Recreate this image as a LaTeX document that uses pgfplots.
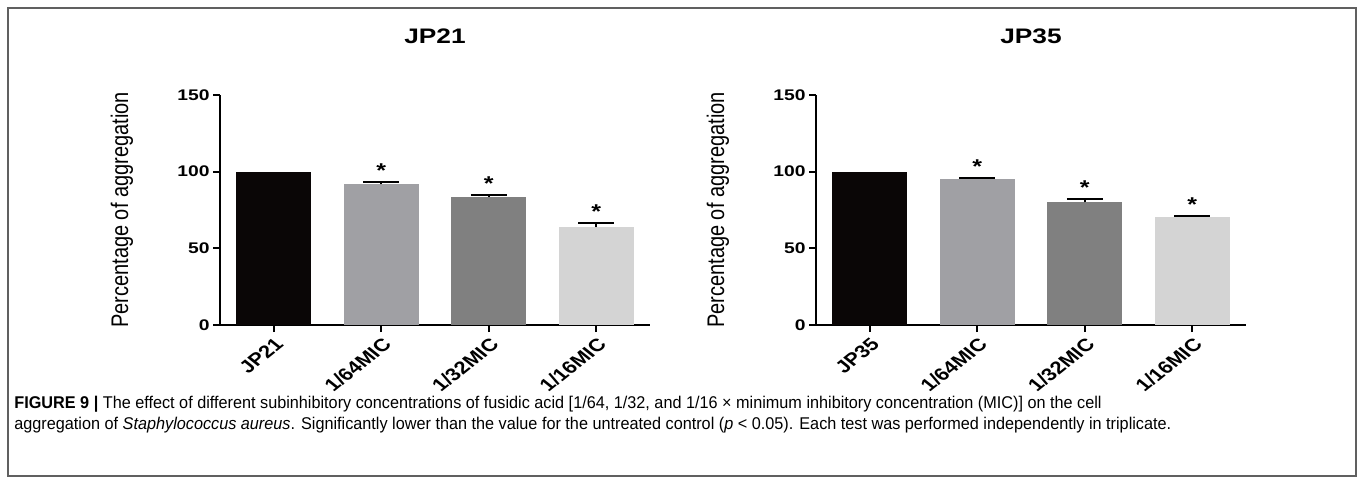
\documentclass[border=0pt]{standalone}
\usepackage{fontspec}
\setmainfont{Liberation Sans}
\newfontfamily\chartfont[FakeStretch=1.25]{Liberation Sans}
\newfontfamily\capfont[FakeStretch=0.955]{Liberation Sans}
\usepackage{pgfplots}
\pgfplotsset{compat=1.18}

\definecolor{ctrl}{RGB}{10,6,6}
\definecolor{mic64}{RGB}{160,160,164}
\definecolor{mic32}{RGB}{128,128,128}
\definecolor{mic16}{RGB}{212,212,212}

% common look of both panels (GraphPad style, stretched 1.25 sideways)
\pgfplotsset{
  prism/.style={
    width=215pt, height=115pt, scale only axis,
    xmin=-0.5, xmax=3.5, ymin=0, ymax=150,
    axis x line=bottom, axis y line=left,
    axis line style={-, line width=1pt, black},
    tick align=outside, major tick length=3.5pt,
    tick style={line width=1pt, black},
    xtick={0,1,2,3}, ytick={0,50,100,150},
    /pgf/number format/assume math mode=true,
    yticklabel style={font=\chartfont\bfseries\fontsize{7.7}{9}\selectfont, inner sep=1.5pt},
    xticklabel style={xscale=1.25, rotate=45, anchor=north east, inner sep=1.5pt,
      font=\bfseries\fontsize{8.8}{10}\selectfont},
    ylabel={Percentage of aggregation},
    ylabel style={at={(axis description cs:-0.228,0.5)}, anchor=center,
      rotate=-90, xscale=1.2, rotate=90,
      font=\fontsize{10}{12}\selectfont},
    title style={at={(0.5,1)}, anchor=center, yshift=23.25pt,
      font=\chartfont\bfseries\fontsize{10.5}{12}\selectfont},
    clip=false,
  },
  bar/.style={ybar, bar width=0.7, bar shift=0pt, draw=none, fill=#1,
    error bars/y dir=plus, error bars/y explicit,
    error bars/error bar style={line width=1pt, black},
    error bars/error mark options={rotate=90, black, line width=1pt, mark size=9pt}},
  star/.style={only marks, mark=*, mark size=0pt, draw=none, fill=none,
    nodes near coords={*},
    every node near coord/.style={anchor=base, yshift=2.3pt, text=black,
      font=\chartfont\bfseries\fontsize{10}{12}\selectfont}},
}

\begin{document}
\begin{tikzpicture}
\path[use as bounding box] (0,0) rectangle (679pt,-242pt);
\draw[gray!75!black, line width=1pt] (4pt,-4pt) rectangle (678pt,-238pt);

\begin{axis}[prism, at={(110pt,-162.5pt)}, anchor=south west,
  title={JP21}, xticklabels={JP21,1/64MIC,1/32MIC,1/16MIC}]
  \addplot[bar=ctrl] coordinates {(0,100)};
  \addplot[bar=mic64] coordinates {(1,91.8) +- (0,1.7)};
  \addplot[bar=mic32] coordinates {(2,83.7) +- (0,1.3)};
  \addplot[bar=mic16] coordinates {(3,63.7) +- (0,2.6)};
  \addplot[star] coordinates {(1,93.5) (2,85.0) (3,66.3)};
\end{axis}

\begin{axis}[prism, at={(408pt,-162.5pt)}, anchor=south west,
  title={JP35}, xticklabels={JP35,1/64MIC,1/32MIC,1/16MIC}]
  \addplot[bar=ctrl] coordinates {(0,100)};
  \addplot[bar=mic64] coordinates {(1,95.4) +- (0,0.7)};
  \addplot[bar=mic32] coordinates {(2,80.0) +- (0,2.4)};
  \addplot[bar=mic16] coordinates {(3,70.6) +- (0,0.7)};
  \addplot[star] coordinates {(1,96.1) (2,82.4) (3,71.3)};
\end{axis}

\node[anchor=base west, inner sep=0pt, font=\capfont\fontsize{8.5}{10.5}\selectfont]
  at (7pt,-204pt) {\textbf{FIGURE 9 |} The effect of different subinhibitory concentrations of fusidic acid [1/64, 1/32, and 1/16 × minimum inhibitory concentration (MIC)] on the cell};
\node[anchor=base west, inner sep=0pt, font=\capfont\fontsize{8.5}{10.5}\selectfont]
  at (7pt,-214.5pt) {aggregation of \textit{Staphylococcus aureus}. Significantly lower than the value for the untreated control (\textit{p} < 0.05). Each test was performed independently in triplicate.};
\end{tikzpicture}
\end{document}
